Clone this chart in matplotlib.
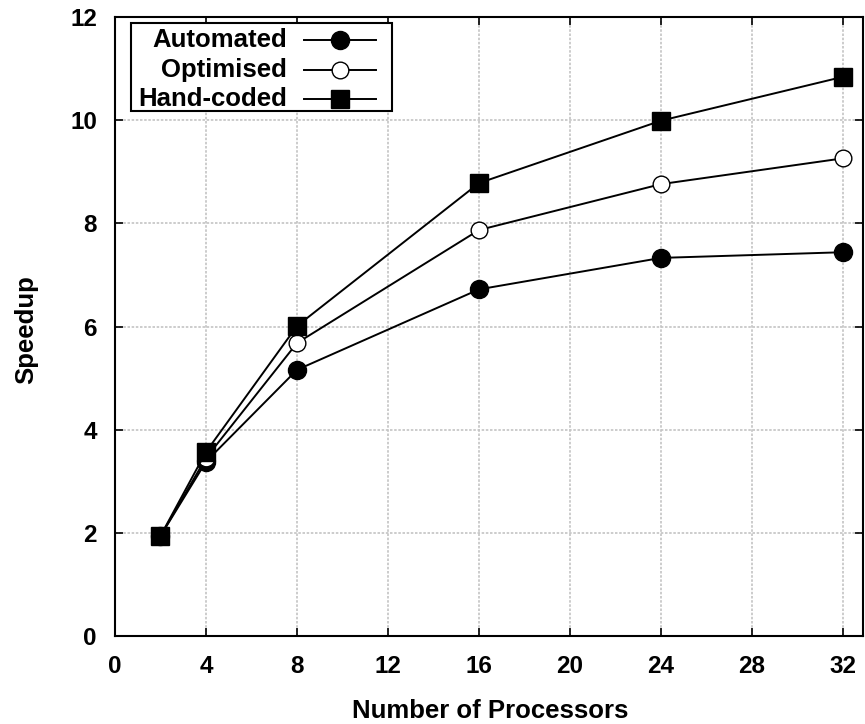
import matplotlib
matplotlib.use("Agg")
import matplotlib.pyplot as plt
from matplotlib.lines import Line2D
from matplotlib.patches import Rectangle

plt.rcParams['font.family'] = ['Liberation Sans', 'DejaVu Sans']

processors = [2, 4, 8, 16, 24, 32]
automated = [1.94, 3.38, 5.16, 6.72, 7.33, 7.44]
optimised = [1.94, 3.45, 5.68, 7.87, 8.76, 9.26]
handcoded = [1.94, 3.57, 6.01, 8.78, 9.99, 10.84]
series_names = ["Automated", "Optimised", "Hand-coded"]
xticks = [0, 4, 8, 12, 16, 20, 24, 28, 32]
yticks = [0, 2, 4, 6, 8, 10, 12]

W, H = 865, 724
fig = plt.figure(figsize=(W / 100, H / 100), dpi=100)
ax = fig.add_axes([115 / W, (H - 636) / H, (863 - 115) / W, (636 - 17) / H])

styles = [
    dict(marker='o', markersize=13, markerfacecolor='black', markeredgecolor='black'),
    dict(marker='o', markersize=12, markerfacecolor='white', markeredgecolor='black', markeredgewidth=1.0),
    dict(marker='s', markersize=12.5, markerfacecolor='black', markeredgecolor='black'),
]
data = [automated, optimised, handcoded]
for vals, st in zip(data, styles):
    ax.plot(processors, vals, color='black', linewidth=1.4, zorder=3, **st)

ax.set_xlim(0, 32.88)
ax.set_ylim(0, 12)
ax.set_xticks(xticks)
ax.set_yticks(yticks)
ax.grid(True, color='#c4c4c4', linestyle=(0, (1.5, 1.0)), linewidth=1.2, zorder=0)
ax.set_axisbelow(True)
for s in ax.spines.values():
    s.set_linewidth(1.5)
    s.set_color('black')
ax.tick_params(axis='both', which='major', direction='in', length=6, width=1.2,
               top=True, right=True, labelsize=17.5)
ax.tick_params(axis='x', pad=14)
ax.tick_params(axis='y', pad=13)
for lab in ax.get_xticklabels() + ax.get_yticklabels():
    lab.set_fontweight('bold')

fig.text(490 / W, 1 - 711 / H, "Number of Processors", ha='center', va='center',
         fontsize=18.5, fontweight='bold')
fig.text(26 / W, 1 - 330 / H, "Speedup", ha='center', va='center', rotation=90,
         fontsize=18.5, fontweight='bold')

# Legend (gnuplot-style key)
def fx(px):
    return px / W

def fy(py):
    return 1 - py / H

fig.patches.append(Rectangle((fx(131), fy(111)), fx(392) - fx(131), fy(23) - fy(111),
                             transform=fig.transFigure, fill=True, facecolor='white',
                             edgecolor='black', linewidth=1.5, zorder=5))
rows = [40, 70, 99]
for name, st, ry in zip(series_names, styles, rows):
    fig.text(fx(287), fy(ry), name, ha='right', va='center', fontsize=18.5,
             fontweight='bold', zorder=6)
    fig.lines.append(Line2D([fx(304), fx(376)], [fy(ry), fy(ry)], transform=fig.transFigure,
                            color='black', linewidth=1.4, zorder=6))
    fig.lines.append(Line2D([fx(340)], [fy(ry)], transform=fig.transFigure,
                            linestyle='none', zorder=7, **st))

fig.savefig("out.png", dpi=100)
